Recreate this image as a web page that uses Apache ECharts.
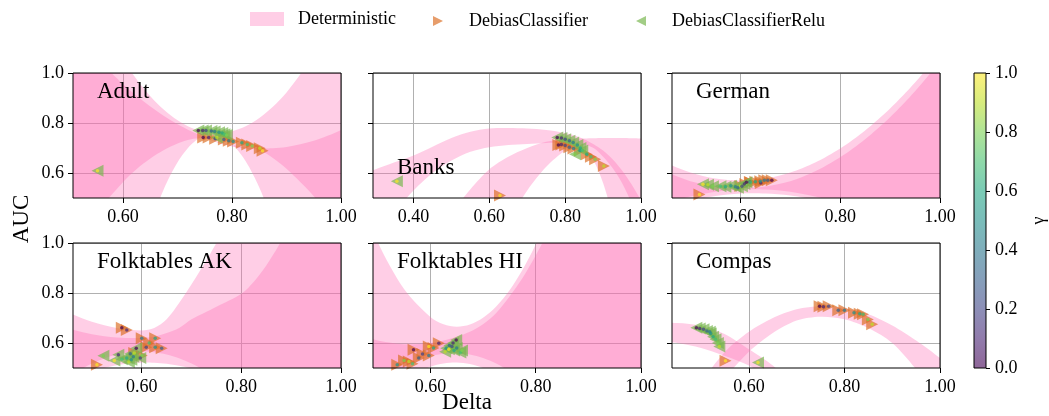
<!DOCTYPE html>
<html><head><meta charset="utf-8">
<script src="https://cdn.jsdelivr.net/npm/echarts@6/dist/echarts.min.js"></script>
<style>html,body{margin:0;padding:0;background:#fff}#c{width:1049px;height:416px}</style>
</head><body><div id="c"></div>
<script>
const FONT = '"Liberation Serif", "DejaVu Serif", serif';

// ---------- axes ----------
const panelNames = ['Adult', 'Banks', 'German', 'Folktables AK', 'Folktables HI', 'Compas'];
const xMins = [0.508, 0.293, 0.463, 0.462, 0.491, 0.439];
const xMax = 1.0;
const xTicks = [[0.6, 0.8, 1.0], [0.4, 0.6, 0.8, 1.0], [0.6, 0.8, 1.0], [0.6, 0.8, 1.0], [0.6, 0.8, 1.0], [0.6, 0.8, 1.0]];
const yMin = 0.5, yMax = 1.0;
const yTicks = [0.6, 0.8, 1.0];
const gammaTicks = [0.0, 0.2, 0.4, 0.6, 0.8, 1.0];

// ---------- Deterministic bands (x, lower, upper) ----------
const adultX   = [0.45,0.50,0.55,0.60,0.625,0.65,0.675,0.70,0.725,0.75,0.775,0.80,0.825,0.85,0.875,0.90,0.95,1.00,1.05];
const adultLo1 = [0.079,0.275,0.437,0.564,0.616,0.658,0.692,0.718,0.735,0.738,0.720,0.706,0.697,0.693,0.660,0.617,0.507,0.363,0.185];
const adultHi1 = [1.337,1.190,1.063,0.955,0.908,0.866,0.828,0.795,0.767,0.744,0.725,0.712,0.703,0.698,0.699,0.704,0.729,0.772,0.835];
const adultLo2 = [0.0,0.0,0.0,0.01,0.218,0.395,0.537,0.643,0.714,0.750,0.751,0.716,0.647,0.542,0.401,0.226,0.0,0.0,0.0];
const adultHi2 = [1.79,1.495,1.249,1.053,0.974,0.907,0.853,0.811,0.781,0.764,0.759,0.767,0.787,0.820,0.865,0.922,1.074,1.276,1.528];

const banksX   = [0.25,0.30,0.35,0.40,0.45,0.50,0.55,0.60,0.65,0.70,0.75,0.80,0.825,0.85,0.875,0.90,0.925,0.95,0.975,1.00,1.05];
const banksLo1 = [0.27,0.36,0.445,0.53,0.60,0.65,0.685,0.703,0.712,0.716,0.72,0.72,0.714,0.70,0.65,0.56,0.43,0.28,0.12,0.0,0.0];
const banksHi1 = [0.585,0.615,0.643,0.67,0.705,0.74,0.765,0.778,0.780,0.778,0.772,0.76,0.75,0.735,0.715,0.69,0.655,0.61,0.555,0.49,0.35];
const banksLo2 = [0.0,0.0,0.0,0.0,0.0,0.0,0.05,0.20,0.40,0.53,0.625,0.69,0.705,0.712,0.70,0.665,0.62,0.56,0.48,0.39,0.2];
const banksHi2 = [0.0,0.0,0.0,0.2,0.33,0.44,0.535,0.615,0.665,0.70,0.725,0.735,0.737,0.738,0.739,0.74,0.74,0.74,0.739,0.738,0.735];

const germanX   = [0.40,0.45,0.50,0.55,0.60,0.65,0.70,0.75,0.80,0.85,0.90,0.95,1.00,1.05];
const germanLo1 = [0.436,0.466,0.490,0.508,0.518,0.518,0.510,0.493,0.472,0.442,0.406,0.361,0.310,0.250];
const germanHi1 = [0.698,0.642,0.602,0.578,0.570,0.578,0.602,0.642,0.698,0.770,0.858,0.962,1.082,1.218];
const germanLo2 = [0.447,0.480,0.506,0.525,0.534,0.534,0.525,0.506,0.480,0.447,0.405,0.356,0.298,0.232];
const germanHi2 = [0.663,0.607,0.567,0.546,0.540,0.546,0.567,0.607,0.663,0.735,0.823,0.927,1.047,1.183];

const akX   = [0.40,0.45,0.50,0.55,0.60,0.625,0.65,0.675,0.70,0.725,0.75,0.80,0.825,0.85,0.875,0.90,0.95,1.00,1.05];
const akLo1 = [0.39,0.445,0.486,0.511,0.522,0.521,0.517,0.509,0.498,0.482,0.463,0.414,0.383,0.349,0.311,0.27,0.175,0.066,0.0];
const akHi1 = [0.78,0.725,0.685,0.66,0.65,0.66,0.695,0.76,0.835,0.915,1.0,1.17,1.26,1.35,1.45,1.55,1.75,1.95,2.15];
const akLo2 = [0.374,0.458,0.518,0.554,0.566,0.563,0.554,0.539,0.518,0.491,0.458,0.374,0.323,0.266,0.203,0.134,0.0,0.0,0.0];
const akHi2 = [0.70,0.66,0.635,0.622,0.62,0.625,0.64,0.66,0.695,0.72,0.745,0.797,0.845,0.91,0.99,1.08,1.28,1.5,1.75];

const hiX   = [0.45,0.50,0.55,0.60,0.625,0.65,0.675,0.70,0.725,0.75,0.775,0.80,0.825,0.85,0.90,0.95,1.00,1.05];
const hiLo1 = [0.219,0.354,0.449,0.505,0.518,0.522,0.516,0.500,0.475,0.439,0.394,0.339,0.275,0.201,0.022,0.0,0.0,0.0];
const hiHi1 = [1.263,1.003,0.816,0.704,0.675,0.665,0.674,0.701,0.746,0.810,0.893,0.994,1.113,1.251,1.583,1.988,2.47,3.02];
const hiLo2 = [0.309,0.421,0.50,0.547,0.557,0.56,0.554,0.54,0.518,0.487,0.449,0.401,0.346,0.283,0.131,0.0,0.0,0.0];
const hiHi2 = [0.64,0.61,0.595,0.60,0.61,0.625,0.645,0.675,0.72,0.785,0.86,0.95,1.05,1.16,1.40,1.70,2.0,2.3];

const compasX   = [0.40,0.45,0.50,0.55,0.60,0.65,0.70,0.75,0.80,0.85,0.90,0.95,1.00,1.05];
const compasLo1 = [0.0,0.17,0.33,0.46,0.565,0.64,0.69,0.705,0.695,0.66,0.60,0.495,0.37,0.22];
const compasHi1 = [0.10,0.28,0.44,0.565,0.645,0.70,0.735,0.747,0.74,0.715,0.67,0.61,0.54,0.46];
const compasLo2 = [0.61,0.60,0.58,0.548,0.51,0.45,0.37,0.27,0.15,0.02,0.0,0.0,0.0,0.0];
const compasHi2 = [0.675,0.68,0.668,0.635,0.575,0.51,0.42,0.31,0.18,0.05,0.0,0.0,0.0,0.0];

// ---------- classifier points [delta, auc, gamma] ----------
const adultDebias = [[0.747,0.742,0.0],[0.757,0.742,0.1],[0.769,0.737,0.2],[0.785,0.734,0.3],[0.794,0.729,0.4],[0.802,0.726,0.5],[0.818,0.721,0.6],[0.828,0.714,0.7],[0.837,0.708,0.8],[0.851,0.699,0.9],[0.856,0.689,1.0]];
const adultRelu   = [[0.738,0.770,0.0],[0.746,0.770,0.1],[0.752,0.770,0.2],[0.762,0.768,0.3],[0.768,0.766,0.4],[0.776,0.763,0.5],[0.782,0.760,0.6],[0.786,0.755,0.7],[0.790,0.752,0.8],[0.772,0.742,0.9],[0.553,0.609,1.0]];
const banksDebias = [[0.782,0.712,0.0],[0.790,0.714,0.1],[0.800,0.710,0.2],[0.811,0.703,0.3],[0.822,0.698,0.4],[0.839,0.690,0.5],[0.857,0.675,0.6],[0.868,0.665,0.7],[0.879,0.655,0.8],[0.902,0.628,0.9],[0.628,0.510,1.0]];
const banksRelu   = [[0.779,0.742,0.0],[0.790,0.740,0.1],[0.800,0.735,0.2],[0.811,0.729,0.3],[0.821,0.722,0.4],[0.832,0.712,0.5],[0.840,0.700,0.6],[0.845,0.690,0.7],[0.826,0.675,0.8],[0.356,0.567,1.0]];
const germanDebias = [[0.663,0.571,0.0],[0.641,0.560,0.1],[0.619,0.564,0.2],[0.655,0.571,0.3],[0.648,0.571,0.4],[0.640,0.567,0.5],[0.630,0.565,0.6],[0.620,0.563,0.7],[0.610,0.556,0.8],[0.600,0.548,0.9],[0.518,0.514,1.0]];
const germanRelu   = [[0.612,0.563,0.0],[0.608,0.556,0.1],[0.603,0.547,0.2],[0.595,0.541,0.3],[0.590,0.545,0.4],[0.581,0.549,0.5],[0.570,0.545,0.6],[0.560,0.547,0.7],[0.545,0.547,0.8],[0.535,0.553,0.9],[0.525,0.555,1.0]];
const akDebias = [[0.560,0.661,0.0],[0.570,0.652,0.1],[0.609,0.583,0.2],[0.640,0.579,0.3],[0.600,0.619,0.4],[0.627,0.583,0.5],[0.627,0.619,0.6],[0.615,0.600,0.7],[0.600,0.550,0.8],[0.585,0.560,0.9],[0.510,0.513,1.0]];
const akRelu   = [[0.589,0.579,0.0],[0.553,0.553,0.1],[0.597,0.540,0.2],[0.577,0.557,0.3],[0.583,0.545,0.4],[0.579,0.533,0.5],[0.570,0.540,0.6],[0.560,0.535,0.7],[0.523,0.549,0.8],[0.574,0.524,0.9],[0.545,0.530,1.0]];
const hiDebias = [[0.568,0.573,0.0],[0.616,0.599,0.1],[0.585,0.556,0.2],[0.578,0.540,0.3],[0.597,0.550,0.4],[0.537,0.513,0.5],[0.606,0.580,0.6],[0.566,0.517,0.7],[0.550,0.530,0.8],[0.559,0.526,0.9],[0.597,0.586,1.0]];
const hiRelu   = [[0.649,0.612,0.0],[0.643,0.600,0.1],[0.641,0.586,0.2],[0.636,0.590,0.3],[0.650,0.580,0.4],[0.630,0.579,0.5],[0.645,0.570,0.6],[0.657,0.562,0.7],[0.660,0.570,0.8],[0.628,0.565,0.9],[0.635,0.575,1.0]];
const compasDebias = [[0.748,0.747,0.0],[0.756,0.745,0.1],[0.767,0.747,0.2],[0.787,0.731,0.3],[0.800,0.731,0.4],[0.820,0.721,0.5],[0.832,0.717,0.6],[0.839,0.715,0.7],[0.849,0.694,0.8],[0.858,0.675,0.9],[0.551,0.529,1.0]];
const compasRelu   = [[0.490,0.661,0.0],[0.497,0.658,0.1],[0.505,0.655,0.2],[0.512,0.648,0.3],[0.518,0.645,0.4],[0.520,0.638,0.5],[0.525,0.625,0.6],[0.530,0.615,0.7],[0.535,0.600,0.8],[0.538,0.586,0.9],[0.619,0.522,1.0]];

const viridis = ['#440154','#482475','#414487','#355f8d','#2a788e','#21918c','#22a884','#44bf70','#7ad151','#bddf26','#fde725'];

// ---------- build ----------
const panelBands = [
  [[adultX, adultLo1, adultHi1], [adultX, adultLo2, adultHi2]],
  [[banksX, banksLo1, banksHi1], [banksX, banksLo2, banksHi2]],
  [[germanX, germanLo1, germanHi1], [germanX, germanLo2, germanHi2]],
  [[akX, akLo1, akHi1], [akX, akLo2, akHi2]],
  [[hiX, hiLo1, hiHi1], [hiX, hiLo2, hiHi2]],
  [[compasX, compasLo1, compasHi1], [compasX, compasLo2, compasHi2]]
];
const panelDebias = [adultDebias, banksDebias, germanDebias, akDebias, hiDebias, compasDebias];
const panelRelu = [adultRelu, banksRelu, germanRelu, akRelu, hiRelu, compasRelu];

function rgba(hex, a) { const n = parseInt(hex.slice(1), 16); return 'rgba(' + (n >> 16) + ',' + ((n >> 8) & 255) + ',' + (n & 255) + ',' + a + ')'; }
const PINK = 'rgba(255,105,180,0.33)';
const ORANGE = 'rgba(220,112,38,0.85)';
const GREEN = 'rgba(118,182,78,0.85)';
const TRI_R = 'path://M0,0L10,5L0,10Z';
const TRI_L = 'path://M10,0L0,5L10,10Z';

const gridLefts = [73, 373, 672], gridTops = [73, 243];
const grids = [], xAxes = [], yAxes = [], series = [], titles = [], dotIdx = [];
const tickFont = { fontFamily: FONT, fontSize: 18, color: '#000' };

function bandRenderer(rows) {
  return function (params, api) {
    if (params.dataIndex !== 0) return null;
    const pts = [];
    for (let j = 0; j < rows.length; j++) pts.push(api.coord([rows[j][0], rows[j][1]]));
    for (let j = rows.length - 1; j >= 0; j--) pts.push(api.coord([rows[j][0], rows[j][2]]));
    const cs = params.coordSys;
    return {
      type: 'polygon',
      shape: { points: pts, smooth: 0.3 },
      style: { fill: PINK, stroke: null },
      clipPath: { type: 'rect', shape: { x: cs.x, y: cs.y, width: cs.width, height: cs.height } }
    };
  };
}

panelNames.forEach((name, i) => {
  const col = i % 3, row = Math.floor(i / 3);
  grids.push({ left: gridLefts[col], top: gridTops[row], width: 268, height: 125, show: true,
    borderColor: '#000', borderWidth: 1, backgroundColor: 'transparent', z: 10 });
  xAxes.push({ gridIndex: i, type: 'value', min: xMins[i], max: xMax,
    axisLine: { show: false },
    axisTick: { show: true, length: 5, lineStyle: { color: '#000' }, customValues: xTicks[i] },
    axisLabel: Object.assign({ customValues: xTicks[i], formatter: v => v.toFixed(2), margin: 10 }, tickFont),
    splitLine: { show: true, lineStyle: { color: '#b0b0b0', width: 1 } } });
  yAxes.push({ gridIndex: i, type: 'value', min: yMin, max: yMax,
    axisLine: { show: false },
    axisTick: { show: true, length: 5, lineStyle: { color: '#000' }, customValues: yTicks },
    axisLabel: Object.assign({ show: col === 0, customValues: yTicks, formatter: v => v.toFixed(1), margin: 9 }, tickFont),
    splitLine: { show: true, lineStyle: { color: '#b0b0b0', width: 1 } } });
  titles.push({ text: name, left: gridLefts[col] + 24, top: (i === 1 ? 156 : gridTops[row] + 7), padding: 0,
    textStyle: { fontFamily: FONT, fontSize: 23, fontWeight: 'normal', color: '#000' } });

  panelBands[i].forEach((b) => {
    const [bx, lo, hi] = b;
    const rows = bx.map((x, j) => [x, lo[j], hi[j]]);
    series.push({ type: 'custom', name: 'Deterministic', xAxisIndex: i, yAxisIndex: i, data: rows,
      encode: { x: 0, y: [1, 2] }, renderItem: bandRenderer(rows), itemStyle: { color: PINK }, silent: true, z: 2 });
  });
  series.push({ type: 'scatter', name: 'DebiasClassifier', xAxisIndex: i, yAxisIndex: i, data: panelDebias[i],
    symbol: TRI_R, symbolSize: 12, itemStyle: { color: ORANGE }, z: 3, silent: true });
  series.push({ type: 'scatter', name: 'DebiasClassifierRelu', xAxisIndex: i, yAxisIndex: i, data: panelRelu[i],
    symbol: TRI_L, symbolSize: 12, itemStyle: { color: GREEN }, z: 3, silent: true });
  dotIdx.push(series.length);
  series.push({ type: 'scatter', name: 'gammaDebias', xAxisIndex: i, yAxisIndex: i, data: panelDebias[i],
    symbol: 'circle', symbolSize: 3.5, z: 4, silent: true });
  dotIdx.push(series.length);
  series.push({ type: 'scatter', name: 'gammaRelu', xAxisIndex: i, yAxisIndex: i, data: panelRelu[i],
    symbol: 'circle', symbolSize: 3.5, z: 4, silent: true });
});

// colorbar
grids.push({ left: 974, top: 73, width: 16, height: 295, show: true, borderColor: '#000', borderWidth: 1, backgroundColor: 'transparent', z: 10 });
xAxes.push({ gridIndex: 6, type: 'category', data: ['gamma'], show: false, boundaryGap: true });
yAxes.push({ gridIndex: 6, type: 'value', min: 0, max: 1, interval: 0.2, position: 'right',
  axisLine: { show: false }, axisTick: { show: true, length: 4, lineStyle: { color: '#000' } },
  axisLabel: Object.assign({ formatter: v => v.toFixed(1), margin: 9 }, tickFont),
  splitLine: { show: false },
  name: 'γ', nameLocation: 'middle', nameGap: 44, nameRotate: 90,
  nameTextStyle: { fontFamily: FONT, fontSize: 18, color: '#000' } });
series.push({ type: 'bar', xAxisIndex: 6, yAxisIndex: 6, data: [gammaTicks[gammaTicks.length - 1]], barWidth: '100%', silent: true,
  itemStyle: { color: new echarts.graphic.LinearGradient(0, 1, 0, 0, viridis.map((c, j) => ({ offset: j / (viridis.length - 1), color: rgba(c, 0.6) }))) } });

const legendText = { fontFamily: FONT, fontSize: 18, color: '#000', padding: [0, 0, 0, 9] };
const option = {
  animation: false,
  backgroundColor: '#fff',
  title: titles,
  grid: grids, xAxis: xAxes, yAxis: yAxes, series: series,
  visualMap: { type: 'continuous', show: false, min: 0, max: 1, dimension: 2, seriesIndex: dotIdx,
    inRange: { color: viridis.map(c => rgba(c, 0.9)) } },
  legend: [
    { left: 250, top: 10, padding: 0, itemWidth: 34, itemHeight: 14, selectedMode: false, textStyle: legendText,
      data: [{ name: 'Deterministic', icon: 'rect', itemStyle: { color: PINK, borderWidth: 0 } }] },
    { left: 433, top: 12, padding: 0, itemWidth: 34, itemHeight: 10, selectedMode: false, textStyle: legendText,
      data: [{ name: 'DebiasClassifier', icon: TRI_R, itemStyle: { color: ORANGE, borderWidth: 0 } }] },
    { left: 636, top: 12, padding: 0, itemWidth: 34, itemHeight: 10, selectedMode: false, textStyle: legendText,
      data: [{ name: 'DebiasClassifierRelu', icon: TRI_L, itemStyle: { color: GREEN, borderWidth: 0 } }] }
  ],
  graphic: [
    { type: 'text', x: 22, y: 219, rotation: Math.PI / 2, style: { text: 'AUC', font: '23px ' + FONT, fill: '#000', align: 'center', verticalAlign: 'middle' } },
    { type: 'text', x: 467, y: 403, style: { text: 'Delta', font: '23px ' + FONT, fill: '#000', align: 'center', verticalAlign: 'middle' } }
  ]
};
const chart = echarts.init(document.getElementById('c'), null, { renderer: 'canvas' });
chart.setOption(option);
</script>
</body></html>
